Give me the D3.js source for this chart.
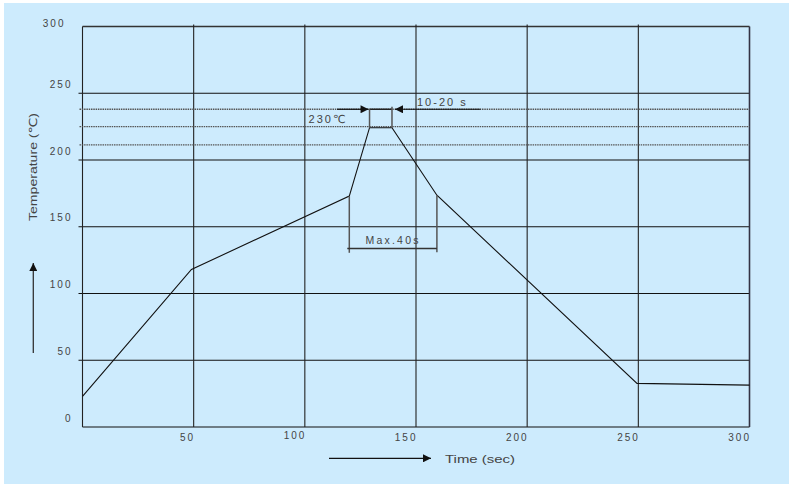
<!DOCTYPE html>
<html>
<head>
<meta charset="utf-8">
<script src="https://cdn.jsdelivr.net/npm/d3@7"></script>
<style>
  html, body { margin: 0; padding: 0; background: #fff; }
  svg { display: block; }
  text { font-family: "Liberation Sans", "DejaVu Sans", sans-serif; fill: #444; }
</style>
</head>
<body>
<svg id="chart" width="789" height="484"></svg>
<script>
// reflow profile
const profileTime = [0, 49, 120, 129.1, 139.2, 159.4, 249.4, 300]
const profileTemp = [23, 118, 173, 224.2, 224.2, 173.6, 32.7, 31.4]
const xTicks = [50, 100, 150, 200, 250, 300]
const yTicks = [0, 50, 100, 150, 200, 250, 300]
const xGrid = [0, 50, 100, 150, 200, 250, 300]
const dottedLevels = [238, 225, 211.4]
const peakWindow = [129.1, 139.2]   // 10-20 s
const peakLevel = 238
const arrowFrom = [114.5, 179]
const maxWindow = [120, 159.4]      // Max.40s
const maxBarLevel = 133.8
const maxBarBottom = 130.5

const svg = d3.select('#chart')
svg.append('rect').attr('x', 4).attr('y', 3).attr('width', 785).attr('height', 481).attr('fill', '#cdebfd')

const x = d3.scaleLinear().domain([0, 300]).range([82.5, 749.5])
const y = d3.scaleLinear().domain([0, 300]).range([427, 26.5])

const defs = svg.append('defs')
defs.append('marker').attr('id', 'head')
  .attr('viewBox', '0 0 10 10').attr('refX', 10).attr('refY', 5)
  .attr('markerWidth', 9).attr('markerHeight', 8).attr('markerUnits', 'userSpaceOnUse')
  .attr('orient', 'auto')
  .append('path').attr('d', 'M0,0L10,5L0,10Z').attr('fill', '#111')

// grid
const g = svg.append('g')
g.selectAll('line.h').data(yTicks).join('line')
  .attr('class', 'h')
  .attr('x1', d => (d === 0 || d === 300) ? x(0) : x(0) - 4)
  .attr('x2', x(300))
  .attr('y1', d => y(d)).attr('y2', d => y(d))
  .attr('stroke', d => d === 300 ? '#333' : '#111')
  .attr('stroke-width', d => d === 300 ? 1.4 : 1.1)

g.selectAll('line.v').data(xGrid).join('line')
  .attr('class', 'v')
  .attr('x1', d => x(d)).attr('x2', d => x(d))
  .attr('y1', y(0))
  .attr('y2', d => (d === 0 || d === 300) ? y(300) : y(300) - 2)
  .attr('stroke', d => d === 300 ? '#334' : '#222')
  .attr('stroke-width', d => d === 300 ? 1.6 : 1.1)

g.selectAll('line.dot').data(dottedLevels).join('line')
  .attr('class', 'dot')
  .attr('x1', x(0) - 3).attr('x2', x(300))
  .attr('y1', d => y(d)).attr('y2', d => y(d))
  .attr('stroke', '#555').attr('stroke-width', 1.3)
  .attr('stroke-dasharray', '1.5,0.8')

// axis labels
const yAxis = svg.append('g').attr('transform', `translate(${x(0)},0)`)
  .call(d3.axisLeft(y).tickValues(yTicks).tickSize(0).tickPadding(10))
yAxis.select('.domain').remove()
yAxis.selectAll('text')
  .attr('font-size', 10).style('letter-spacing', '2px')
  .attr('font-family', null).attr('fill', '#444')
  .attr('dy', d => d === 300 ? '-0.05em' : '-0.6em')
  .attr('x', d => d === 300 ? -17 : -10)

const xAxis = svg.append('g').attr('transform', `translate(0,${y(0)})`)
  .call(d3.axisBottom(x).tickValues(xTicks).tickSize(0).tickPadding(7))
xAxis.select('.domain').remove()
xAxis.selectAll('text')
  .attr('font-size', 10).style('letter-spacing', '2px')
  .attr('font-family', null).attr('fill', '#444')
  .attr('text-anchor', 'end').attr('x', 1)
  .attr('y', d => d === 100 ? 5 : 7)

// profile curve
const pts = profileTime.map((t, i) => [t, profileTemp[i]])
svg.append('path')
  .attr('d', d3.line().x(d => x(d[0])).y(d => y(d[1]))(pts))
  .attr('fill', 'none').attr('stroke', '#111').attr('stroke-width', 1.1)

// peak window annotation
const ann = svg.append('g').attr('stroke', '#555').attr('stroke-width', 1.5).attr('fill', 'none')
ann.append('line')
  .attr('x1', x(peakWindow[0])).attr('x2', x(peakWindow[1]))
  .attr('y1', y(peakLevel)).attr('y2', y(peakLevel)).attr('stroke', '#222')
ann.append('line')
  .attr('x1', x(peakWindow[0])).attr('x2', x(peakWindow[0]))
  .attr('y1', y(peakLevel)).attr('y2', y(224.2))
ann.append('line')
  .attr('x1', x(peakWindow[1])).attr('x2', x(peakWindow[1]))
  .attr('y1', y(peakLevel) - 2.5).attr('y2', y(224.2))
ann.append('line')
  .attr('x1', x(arrowFrom[0])).attr('x2', x(peakWindow[0]) - 1)
  .attr('y1', y(peakLevel)).attr('y2', y(peakLevel))
  .attr('stroke', '#111').attr('stroke-width', 1.2).attr('marker-end', 'url(#head)')
ann.append('line')
  .attr('x1', x(arrowFrom[1])).attr('x2', x(peakWindow[1]) + 3)
  .attr('y1', y(peakLevel)).attr('y2', y(peakLevel))
  .attr('stroke', '#111').attr('stroke-width', 1.2).attr('marker-end', 'url(#head)')

// max 40 s annotation
ann.append('line')
  .attr('x1', x(maxWindow[0])).attr('x2', x(maxWindow[0]))
  .attr('y1', y(173)).attr('y2', y(maxBarBottom))
ann.append('line')
  .attr('x1', x(maxWindow[1])).attr('x2', x(maxWindow[1]))
  .attr('y1', y(173.6)).attr('y2', y(maxBarBottom) - 0.5)
ann.append('line')
  .attr('x1', x(maxWindow[0]) - 2).attr('x2', x(maxWindow[1]))
  .attr('y1', y(maxBarLevel)).attr('y2', y(maxBarLevel)).attr('stroke', '#333')

svg.append('text').text('230℃')
  .attr('x', x(peakWindow[0]) - 61).attr('y', y(peakLevel) + 14)
  .attr('font-size', 11).style('letter-spacing', '2px')
svg.append('text').text('10-20 s')
  .attr('x', x(peakWindow[1]) + 25).attr('y', y(peakLevel) - 3.5)
  .attr('font-size', 11).style('letter-spacing', '2px')
svg.append('text').text('Max.40s')
  .attr('x', (x(maxWindow[0]) + x(maxWindow[1])) / 2).attr('y', y(maxBarLevel) - 4)
  .attr('text-anchor', 'middle')
  .attr('font-size', 10.5).style('letter-spacing', '2.2px')

// axis titles with arrows
svg.append('line')
  .attr('x1', 33.3).attr('x2', 33.3).attr('y1', 353).attr('y2', 263)
  .attr('stroke', '#333').attr('stroke-width', 1.3).attr('marker-end', 'url(#head)')
svg.append('text').text('Temperature (℃)')
  .attr('transform', 'translate(37,167) rotate(-90)')
  .attr('text-anchor', 'middle')
  .attr('font-size', 11)
  .attr('textLength', 108).attr('lengthAdjust', 'spacingAndGlyphs')

svg.append('line')
  .attr('x1', 329).attr('x2', 431).attr('y1', 458.3).attr('y2', 458.3)
  .attr('stroke', '#111').attr('stroke-width', 1.3).attr('marker-end', 'url(#head)')
svg.append('text').text('Time (sec)')
  .attr('x', 445).attr('y', 463.3)
  .attr('font-size', 11)
  .attr('textLength', 70).attr('lengthAdjust', 'spacingAndGlyphs')
</script>
</body>
</html>
